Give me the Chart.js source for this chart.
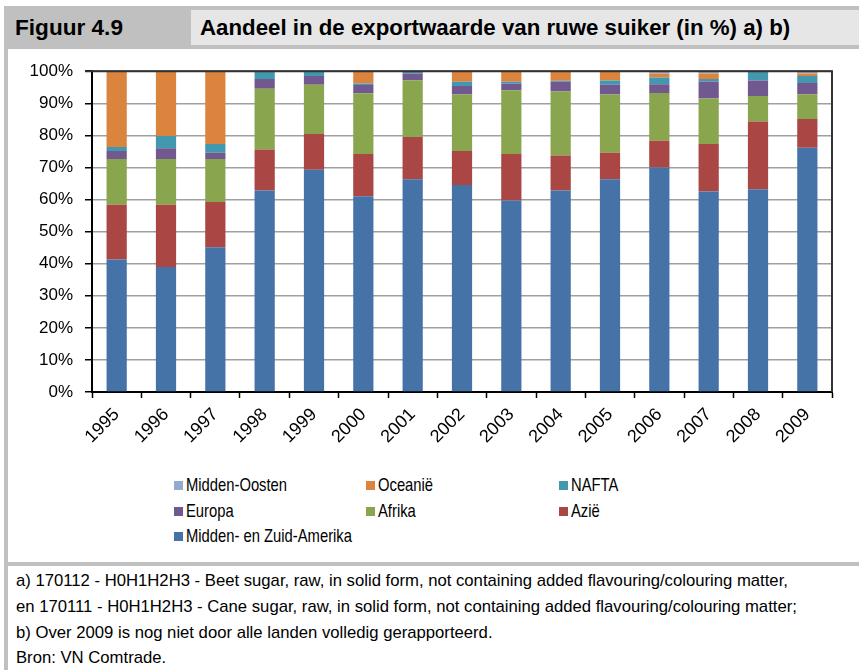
<!DOCTYPE html>
<html>
<head>
<meta charset="utf-8">
<script src="https://cdn.jsdelivr.net/npm/chart.js@4/dist/chart.umd.min.js"></script>
<style>
  body { margin: 0; background: #fff; width: 859px; height: 670px; overflow: hidden; position: relative; font-family: "Liberation Sans", Arial, sans-serif; }
  .box { position: absolute; background: #c0c0c0; }
  .fit { display: inline-block; white-space: nowrap; transform-origin: 0 50%; }
  #head1, #head2 { position: absolute; top: 10px; height: 35px; line-height: 35px; font-weight: bold; font-size: 22px; color: #000; white-space: nowrap; }
  #head1 { left: 15px; }
  #head2 { left: 191px; width: 668px; background: #e6e6e6; padding-left: 9px; box-sizing: border-box; overflow: hidden; }
  #chartWrap { position: absolute; left: 8px; top: 49px; width: 851px; height: 413px; }
  #legend { position: absolute; left: 0; top: 0; font-size: 19px; color: #000; }
  .item { position: absolute; white-space: nowrap; height: 20px; line-height: 20px; }
  .sw { position: absolute; left: 0; top: 6px; width: 9px; height: 9px; }
  .item .fit { position: absolute; left: 12px; top: 0; }
  .note { position: absolute; left: 16px; font-size: 17px; color: #000; white-space: nowrap; height: 22px; line-height: 22px; }
</style>
</head>
<body>
<div class="box" style="left:4px;top:6px;width:855px;height:43px;"></div>
<div class="box" style="left:4px;top:6px;width:4px;height:664px;"></div>
<div class="box" style="left:4px;top:562px;width:855px;height:4px;"></div>
<div id="head1"><span class="fit" id="h1">Figuur 4.9</span></div>
<div id="head2"><span class="fit" id="h2">Aandeel in de exportwaarde van ruwe suiker (in %) a) b)</span></div>
<div id="chartWrap"><canvas id="exportChart"></canvas></div>
<div id="legend"></div>
<div class="note" style="top:570px;"><span class="fit nt" id="n1">a) 170112 - H0H1H2H3 - Beet sugar, raw, in solid form, not containing added flavouring/colouring matter,</span></div>
<div class="note" style="top:596px;"><span class="fit nt">en 170111 - H0H1H2H3 - Cane sugar, raw, in solid form, not containing added flavouring/colouring matter;</span></div>
<div class="note" style="top:622px;"><span class="fit nt">b) Over 2009 is nog niet door alle landen volledig gerapporteerd.</span></div>
<div class="note" style="top:647px;"><span class="fit nt">Bron: VN Comtrade.</span></div>

<script>
const years = ['1995', '1996', '1997', '1998', '1999', '2000', '2001', '2002', '2003', '2004', '2005', '2006', '2007', '2008', '2009'];

// share of export value in %, bottom segment first
const zuidAmerika = [41.3, 39.0, 45.1, 62.8, 69.3, 61.0, 66.3, 64.5, 59.7, 62.8, 66.3, 70.0, 62.5, 63.2, 76.1];
const azie = [17.1, 19.4, 14.1, 12.8, 11.1, 13.2, 13.2, 10.6, 14.5, 10.9, 8.3, 8.3, 14.8, 21.1, 9.0];
const afrika = [14.2, 14.2, 13.4, 18.9, 15.4, 18.9, 17.7, 17.6, 19.9, 20.0, 18.1, 14.9, 14.2, 8.0, 7.7];
const europa = [2.5, 3.4, 2.0, 3.1, 2.7, 2.6, 2.1, 2.7, 2.1, 3.0, 3.1, 2.7, 5.3, 4.8, 3.5];
const nafta = [1.3, 3.8, 2.7, 2.4, 1.5, 0.5, 0.5, 1.3, 0.5, 0.3, 1.3, 2.1, 0.8, 2.9, 2.2];
const oceanie = [23.6, 20.2, 22.7, 0, 0, 3.8, 0.2, 3.3, 3.3, 3.0, 2.9, 1.3, 1.7, 0, 0.8];
const middenOosten = [0, 0, 0, 0, 0, 0, 0, 0, 0, 0, 0, 0.7, 0.7, 0, 0.7];

const yTicks = [0, 10, 20, 30, 40, 50, 60, 70, 80, 90, 100];

const ctx = document.getElementById('exportChart').getContext('2d');

function series(label, data, color) {
  return {
    label: label,
    data: data,
    backgroundColor: color,
    borderWidth: 0,
    barPercentage: 0.41,
    categoryPercentage: 1
  };
}

// top and right edges of the plot frame
const frame = {
  id: 'frame',
  afterDraw(chart) {
    const a = chart.chartArea;
    const c = chart.ctx;
    c.save();
    c.strokeStyle = '#333';
    c.lineWidth = 2;
    c.beginPath();
    c.moveTo(a.left - 7, a.top);
    c.lineTo(a.right, a.top);
    c.lineTo(a.right, a.bottom);
    c.stroke();
    c.restore();
  }
};

const chart = new Chart(ctx, {
  type: 'bar',
  data: {
    labels: years,
    datasets: [
      series('Midden- en Zuid-Amerika', zuidAmerika, '#4572A7'),
      series('Azië', azie, '#AA4643'),
      series('Afrika', afrika, '#89A54E'),
      series('Europa', europa, '#71588F'),
      series('NAFTA', nafta, '#4198AF'),
      series('Oceanië', oceanie, '#DB843D'),
      series('Midden-Oosten', middenOosten, '#93A9CF')
    ]
  },
  options: {
    responsive: true,
    maintainAspectRatio: false,
    animation: false,
    layout: { padding: { top: 22, right: 27, left: 0, bottom: 0 } },
    scales: {
      x: {
        stacked: true,
        afterFit: (scale) => { scale.height = 70; },
        grid: {
          display: true,
          offset: true,
          drawOnChartArea: false,
          drawTicks: true,
          tickLength: 6,
          tickColor: '#000',
          tickWidth: 1.5
        },
        border: { color: '#000', width: 2 },
        ticks: {
          minRotation: 45,
          maxRotation: 45,
          color: '#000',
          padding: 6,
          font: { family: 'Liberation Sans', size: 18 }
        }
      },
      y: {
        stacked: true,
        min: 0,
        max: 100,
        afterFit: (scale) => { scale.width = 84; },
        afterBuildTicks: (scale) => { scale.ticks = yTicks.map(v => ({ value: v })); },
        grid: {
          color: '#a0a0a0',
          lineWidth: 1.5,
          tickLength: 7,
          tickColor: '#000'
        },
        border: { color: '#000', width: 2 },
        ticks: {
          color: '#000',
          padding: 12,
          callback: (v) => v + '%',
          font: { family: 'Liberation Sans', size: 17 }
        }
      }
    },
    plugins: {
      legend: { display: false },
      tooltip: { enabled: false }
    }
  },
  plugins: [frame]
});

// legend in three columns, top stack segment first (as in the original)
const legendDiv = document.getElementById('legend');
const colX = [174, 366, 559];
const rowY = [485, 511, 536];
chart.data.datasets.slice().reverse().forEach((ds, i) => {
  const div = document.createElement('div');
  div.className = 'item';
  div.style.left = colX[i % 3] + 'px';
  div.style.top = (rowY[Math.floor(i / 3)] - 10) + 'px';
  div.innerHTML = `<span class="sw" style="background:${ds.backgroundColor}"></span><span class="fit lg">${ds.label}</span>`;
  legendDiv.appendChild(div);
});

// squeeze text to the condensed width of the original, one factor per group
function squeeze(els, ref, target) {
  const k = (target / ref.getBoundingClientRect().width).toFixed(3);
  els.forEach(el => { el.style.transform = 'scaleX(' + k + ')'; });
}
squeeze([document.getElementById('h1')], document.getElementById('h1'), 108);
squeeze([document.getElementById('h2')], document.getElementById('h2'), 590);
squeeze(document.querySelectorAll('.nt'), document.getElementById('n1'), 772);
const lgs = document.querySelectorAll('.lg');
squeeze(lgs, lgs[lgs.length - 1], 166);
</script>
</body>
</html>
